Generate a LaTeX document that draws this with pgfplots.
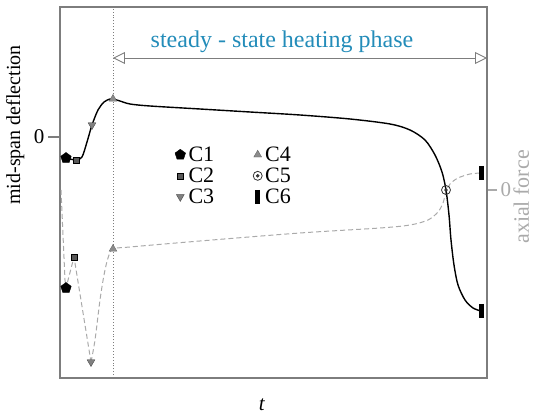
\documentclass[border=0pt]{standalone}
\usepackage{pgfplots}
\pgfplotsset{compat=1.18}
\usepackage{fontspec}
\setmainfont{Liberation Serif}
\usetikzlibrary{arrows.meta}

\definecolor{framegray}{RGB}{125,125,125}
\definecolor{forcegray}{RGB}{170,170,170}
\definecolor{phaseblue}{RGB}{35,140,185}

% circle with a centre dot
\pgfdeclareplotmark{odot}{%
  \pgfpathcircle{\pgfpointorigin}{\pgfplotmarksize}\pgfusepathqstroke
  \pgfpathcircle{\pgfpointorigin}{0.3\pgfplotmarksize}\pgfusepathqfillstroke}

\tikzset{
  mC1/.style={mark=pentagon*, mark size=5.5pt, mark options={solid, fill=black, draw=black}},
  mC2/.style={mark=square*, mark size=3pt, mark options={solid, fill=black!65, draw=black}},
  mC3/.style={mark=triangle*, mark size=4.5pt, mark options={solid, rotate=180, fill=black!50, draw=black!70}},
  mC4/.style={mark=triangle*, mark size=4.5pt, mark options={solid, fill=black!45, draw=black!60}},
  mC5/.style={mark=odot, mark size=4.5pt, mark options={solid, draw=black!80, fill=black!80, line width=0.8pt}},
  mC6/.style={mark=|, mark size=7pt, mark options={solid, line width=5pt, draw=black}},
}

\begin{document}
\begin{tikzpicture}
\useasboundingbox (-60pt,-36pt) rectangle (473pt,378pt);
\begin{axis}[
  scale only axis, width=427pt, height=371pt,
  xmin=60, xmax=487, ymin=0, ymax=371,
  axis line style={framegray, line width=1.1pt},
  xtick=\empty,
  ytick={241}, yticklabels={0}, ytick pos=left,
  tick align=outside, major tick length=12pt,
  tick style={framegray, line width=1.1pt},
  /pgf/number format/assume math mode=true,
  ticklabel style={font=\fontsize{21}{24}\selectfont},
  xlabel={\textit{t}},
  xlabel style={at={(axis description cs:0.473,-0.073)}, anchor=center, font=\fontsize{21}{24}\selectfont},
  ylabel={mid-span deflection},
  ylabel style={at={(axis description cs:-0.105,0.682)}, anchor=center, rotate=0, font=\fontsize{20}{22}\selectfont},
  legend columns=2,
  legend style={at={(axis description cs:0.262,0.632)}, anchor=north west, draw=none, fill=none,
    font=\fontsize{22}{22}\selectfont, column sep=2pt, row sep=3pt,
    nodes={inner sep=1pt},
    /tikz/every even column/.append style={column sep=38pt}},
  legend cell align=left,
]
% phase markers
\draw[framegray, dotted, line width=0.9pt] (axis cs:113,0) -- (axis cs:113,371);
\draw[framegray, line width=0.9pt, {Triangle[open,length=12pt,width=12pt]}-{Triangle[open,length=12pt,width=12pt]}]
  (axis cs:113,320) -- (axis cs:487,320);
\node[phaseblue, font=\fontsize{24}{26}\selectfont, anchor=center] at (axis cs:282,336) {steady - state heating phase};

% axial force
\addplot[forget plot, forcegray, line width=1pt, dash pattern=on 5pt off 3pt] coordinates {
  (61,188) (65,98) (66,90) (74,121) (91,16)
};
\addplot[forget plot, forcegray, line width=1pt, dash pattern=on 5pt off 3pt, smooth, tension=0.5] coordinates {
  (91,16) (95,38) (100,78) (104,103) (108,120) (113,129) (130,131) (200,137) (300,145)
  (380,150) (410,153) (428,158) (438,166) (443,175) (446,186) (450,194) (458,200) (470,204) (481,205)
};

% mid-span deflection
\addplot[forget plot, black, line width=1.4pt, smooth, tension=0.5] coordinates {
  (66,220) (76,218) (82,221) (87,236) (92,253) (98,268) (104,276) (110,279) (113,279)
  (120,277) (130,274) (150,272) (200,269) (250,266) (300,263) (350,259) (390,254)
  (410,248) (425,238) (435,223) (442,206) (446,188) (449,163) (451,138) (454,113)
  (458,93) (465,78) (473,70) (481,67)
};

% stage markers
\addplot[forget plot, only marks, mC1] coordinates {(66,220) (66,90)};
\addplot[forget plot, only marks, mC2] coordinates {(76,218) (74,121)};
\addplot[forget plot, only marks, mC3] coordinates {(92,253) (91,16)};
\addplot[forget plot, only marks, mC4] coordinates {(113,279) (113,129)};
\addplot[forget plot, only marks, mC5] coordinates {(446,188)};
\addplot[forget plot, only marks, mC6] coordinates {(481,67) (481,205)};

\addlegendimage{only marks, mC1}\addlegendentry{C1}
\addlegendimage{only marks, mC4}\addlegendentry{C4}
\addlegendimage{only marks, mC2}\addlegendentry{C2}
\addlegendimage{only marks, mC5}\addlegendentry{C5}
\addlegendimage{only marks, mC3}\addlegendentry{C3}
\addlegendimage{only marks, mC6}\addlegendentry{C6}
\end{axis}

\begin{axis}[
  scale only axis, width=427pt, height=371pt,
  xmin=60, xmax=487, ymin=0, ymax=371,
  axis x line=none, axis y line*=right,
  axis line style={framegray, line width=1.1pt, -},
  ytick={188}, yticklabels={0},
  tick align=outside, major tick length=10pt,
  tick style={forcegray, line width=1.1pt},
  /pgf/number format/assume math mode=true,
  ticklabel style={font=\fontsize{21}{24}\selectfont, forcegray},
  ylabel={axial force},
  ylabel style={at={(axis description cs:1.08,0.488)}, anchor=center, rotate=0, forcegray, font=\fontsize{22}{24}\selectfont},
]
\end{axis}
\end{tikzpicture}
\end{document}
